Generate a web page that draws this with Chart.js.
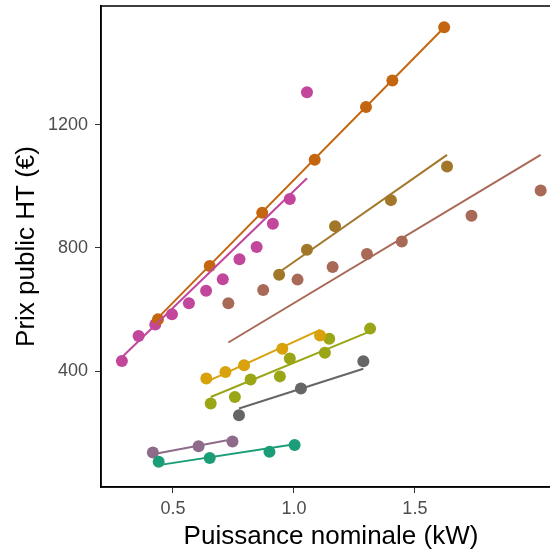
<!DOCTYPE html>
<html>
<head>
<meta charset="utf-8">
<script src="https://cdn.jsdelivr.net/npm/chart.js@4"></script>
<style>
  html, body { margin: 0; padding: 0; overflow: hidden; background: #fff; }
</style>
</head>
<body>
<canvas id="prixChart" width="575" height="552"></canvas>
<script>
// -----------------------------
// Data
// -----------------------------
const tealX = [0.441, 0.652, 0.899, 1.003];
const tealY = [106, 118, 138, 160];
const tealFitX = [0.441, 1.003];
const tealFitY = [95, 163];

const mauveX = [0.417, 0.606, 0.746];
const mauveY = [136, 156, 172];
const mauveFitX = [0.417, 0.746];
const mauveFitY = [130, 179];

const goldX = [0.638, 0.717, 0.794, 0.952, 1.108];
const goldY = [376, 397, 419, 473, 516];
const goldFitX = [0.638, 1.108];
const goldFitY = [365, 534];

const greenX = [0.656, 0.756, 0.821, 0.942, 0.983, 1.128, 1.146, 1.315];
const greenY = [295, 316, 373, 383, 441, 460, 505, 538];
const greenFitX = [0.656, 1.315];
const greenFitY = [316, 529];

const greyX = [0.773, 1.029, 1.287];
const greyY = [257, 344, 432];
const greyFitX = [0.773, 1.287];
const greyFitY = [279, 408];

const orangeX = [0.438, 0.652, 0.869, 1.086, 1.298, 1.407, 1.621];
const orangeY = [568, 741, 914, 1086, 1257, 1343, 1516];
const orangeFitX = [0.438, 1.621];
const orangeFitY = [573, 1515];

const magentaX = [0.289, 0.358, 0.427, 0.496, 0.566, 0.637, 0.706, 0.775, 0.846, 0.913, 0.983, 1.054];
const magentaY = [433, 514, 551, 585, 620, 661, 698, 763, 803, 878, 959, 1305];
const magentaFitX = [0.289, 1.054];
const magentaFitY = [445, 1026];

const brownX = [0.939, 1.054, 1.170, 1.401, 1.633];
const brownY = [713, 794, 870, 955, 1064];
const brownFitX = [0.939, 1.633];
const brownFitY = [721, 1102];

const salmonX = [0.729, 0.873, 1.015, 1.160, 1.302, 1.446, 1.734, 2.020];
const salmonY = [620, 663, 697, 738, 780, 821, 904, 986];
const salmonFitX = [0.729, 2.020];
const salmonFitY = [493, 1102];

const xTickValues = [0.5, 1.0, 1.5];
const xTickLabels = ["0.5", "1.0", "1.5"];
const yTickValues = [400, 800, 1200];
const yTickLabels = ["400", "800", "1200"];

// -----------------------------
// Build datasets
// -----------------------------
const groups = [
  { xs: tealX, ys: tealY, fx: tealFitX, fy: tealFitY, color: "#1B9E77" },
  { xs: mauveX, ys: mauveY, fx: mauveFitX, fy: mauveFitY, color: "#8E6B8B" },
  { xs: goldX, ys: goldY, fx: goldFitX, fy: goldFitY, color: "#D9A10B" },
  { xs: greenX, ys: greenY, fx: greenFitX, fy: greenFitY, color: "#9AA616" },
  { xs: greyX, ys: greyY, fx: greyFitX, fy: greyFitY, color: "#666666" },
  { xs: orangeX, ys: orangeY, fx: orangeFitX, fy: orangeFitY, color: "#C4650F" },
  { xs: magentaX, ys: magentaY, fx: magentaFitX, fy: magentaFitY, color: "#C1469C" },
  { xs: brownX, ys: brownY, fx: brownFitX, fy: brownFitY, color: "#A2772A" },
  { xs: salmonX, ys: salmonY, fx: salmonFitX, fy: salmonFitY, color: "#A86956" }
];

function toPoints(xs, ys) {
  return xs.map((x, i) => ({ x: x, y: ys[i] }));
}

const datasets = [];
groups.forEach(g => {
  datasets.push({
    type: "scatter",
    data: toPoints(g.xs, g.ys),
    backgroundColor: g.color,
    borderWidth: 0,
    pointRadius: 6,
    order: 2
  });
  datasets.push({
    type: "line",
    data: toPoints(g.fx, g.fy),
    borderColor: g.color,
    borderWidth: 2,
    pointRadius: 0,
    fill: false,
    order: 1
  });
});

// panel border (top line; right edge falls outside the window)
const panelBorder = {
  id: "panelBorder",
  afterDraw(chart) {
    const a = chart.chartArea;
    const ctx = chart.ctx;
    ctx.save();
    ctx.strokeStyle = "#000";
    ctx.lineWidth = 1.5;
    ctx.strokeRect(a.left, a.top, a.right - a.left, a.bottom - a.top);
    ctx.restore();
  }
};

const tickFont = { family: "'Liberation Sans', Arial, sans-serif", size: 18 };
const titleFont = { family: "'Liberation Sans', Arial, sans-serif", size: 26 };

new Chart(document.getElementById("prixChart"), {
  data: { datasets: datasets },
  options: {
    responsive: false,
    animation: false,
    layout: { padding: { top: 4, right: 14, left: 0, bottom: 0 } },
    plugins: {
      legend: { display: false },
      tooltip: { enabled: false }
    },
    scales: {
      x: {
        type: "linear",
        min: 0.2026,
        max: 2.104,
        afterBuildTicks: scale => { scale.ticks = xTickValues.map(v => ({ value: v })); },
        afterFit: scale => { scale.height = 65; scale.paddingLeft = 0; scale.paddingRight = 0; },
        ticks: {
          color: "#4D4D4D",
          font: tickFont,
          padding: 5,
          maxRotation: 0,
          callback: (v) => xTickLabels[xTickValues.indexOf(v)]
        },
        grid: { drawOnChartArea: false, tickLength: 6, color: "#333" },
        border: { color: "#000", width: 1.5 },
        title: {
          display: true,
          text: "Puissance nominale (kW)",
          color: "#000",
          font: titleFont,
          padding: { top: 0, bottom: 0 }
        }
      },
      y: {
        type: "linear",
        min: 24,
        max: 1585,
        afterBuildTicks: scale => { scale.ticks = yTickValues.map(v => ({ value: v })); },
        afterFit: scale => { scale.width = 101; scale.paddingTop = 0; scale.paddingBottom = 0; },
        ticks: {
          color: "#4D4D4D",
          font: tickFont,
          padding: 7,
          callback: (v) => yTickLabels[yTickValues.indexOf(v)]
        },
        grid: { drawOnChartArea: false, tickLength: 6, color: "#333" },
        border: { color: "#000", width: 1.5 },
        title: {
          display: true,
          text: "Prix public HT (€)",
          color: "#000",
          font: titleFont,
          padding: { top: 11, bottom: 0 }
        }
      }
    }
  },
  plugins: [panelBorder]
});
</script>
</body>
</html>
